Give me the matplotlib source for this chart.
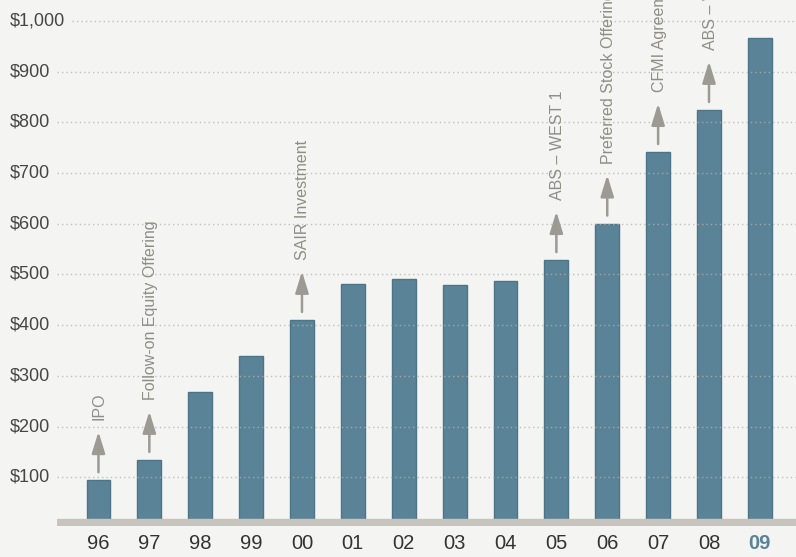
import matplotlib.pyplot as plt
from matplotlib.transforms import blended_transform_factory

years = ['96', '97', '98', '99', '00', '01', '02', '03', '04', '05', '06', '07', '08', '09']
values = [94, 134, 269, 339, 410, 481, 491, 479, 487, 528, 600, 741, 824, 967]
grid_values = [100, 200, 300, 400, 500, 600, 700, 800, 900, 1000]
grid_labels = ['$100', '$200', '$300', '$400', '$500', '$600', '$700', '$800', '$900', '$1,000']
# события над столбцами (индекс года, подпись)
events = [(0, 'IPO'), (1, 'Follow-on Equity Offering'), (4, 'SAIR Investment'),
          (9, 'ABS – WEST 1'), (10, 'Preferred Stock Offering'), (11, 'CFMI Agreement'),
          (12, 'ABS – WEST 2'), (13, 'ABS – WEST 3')]

bg = '#f4f4f2'
bar_color = '#5a8397'
arrow_color = '#9b9b93'
font = ['Liberation Sans', 'DejaVu Sans']
plt.rcParams['font.family'] = font

fig = plt.figure(figsize=(7.96, 5.57), dpi=100, facecolor=bg)
ax = fig.add_axes([57 / 796, 31 / 557, 739 / 796, 526 / 557])
ax.set_facecolor(bg)
ax.set_xlim(-0.815, 13.71)
ax.set_ylim(4, 1041)
for s in ax.spines.values():
    s.set_visible(False)

x = list(range(len(years)))
ax.bar(x, values, width=0.47, color=bar_color, edgecolor='#4e7488', linewidth=1, zorder=2)

# пунктирная сетка
for v in grid_values:
    start = 0.02 if v == 1000 else 0.0
    ax.axhline(v, xmin=start, xmax=1, color='#b3b3ad', lw=1, linestyle=(0, (1, 2.2)),
               zorder=3, alpha=0.8)

# подписи оси Y слева
trans = blended_transform_factory(fig.transFigure, ax.transData)
for v, lab in zip(grid_values, grid_labels):
    ax.text(10 / 796, v, lab, transform=trans, ha='left', va='center',
            fontsize=13, color='#464646')

# базовая линия
ax.axhspan(4, 18, color='#c6c4bd', zorder=4)

ax.set_yticks([])
ax.set_xticks(x)
ax.set_xticklabels(years, fontsize=14.5, color='#333333')
ax.tick_params(axis='x', length=0, pad=6)
lab09 = ax.get_xticklabels()[-1]
lab09.set_color('#5a8397')
lab09.set_fontweight('bold')

# стрелки и подписи событий
for i, text in events:
    base = values[i] + 16
    tip = base + 80
    ax.annotate('', xy=(i, tip), xytext=(i, base),
                arrowprops=dict(arrowstyle='-|>,head_length=0.65,head_width=0.2',
                                color=arrow_color, lw=1.8, mutation_scale=20,
                                shrinkA=0, shrinkB=0), zorder=5)
    ax.text(i + 0.02, tip + 22, text, rotation=90, ha='center', va='bottom',
            fontsize=11.5, color='#8e8e86', zorder=5, clip_on=True)

fig.savefig('out.png', dpi=100, facecolor=bg)
